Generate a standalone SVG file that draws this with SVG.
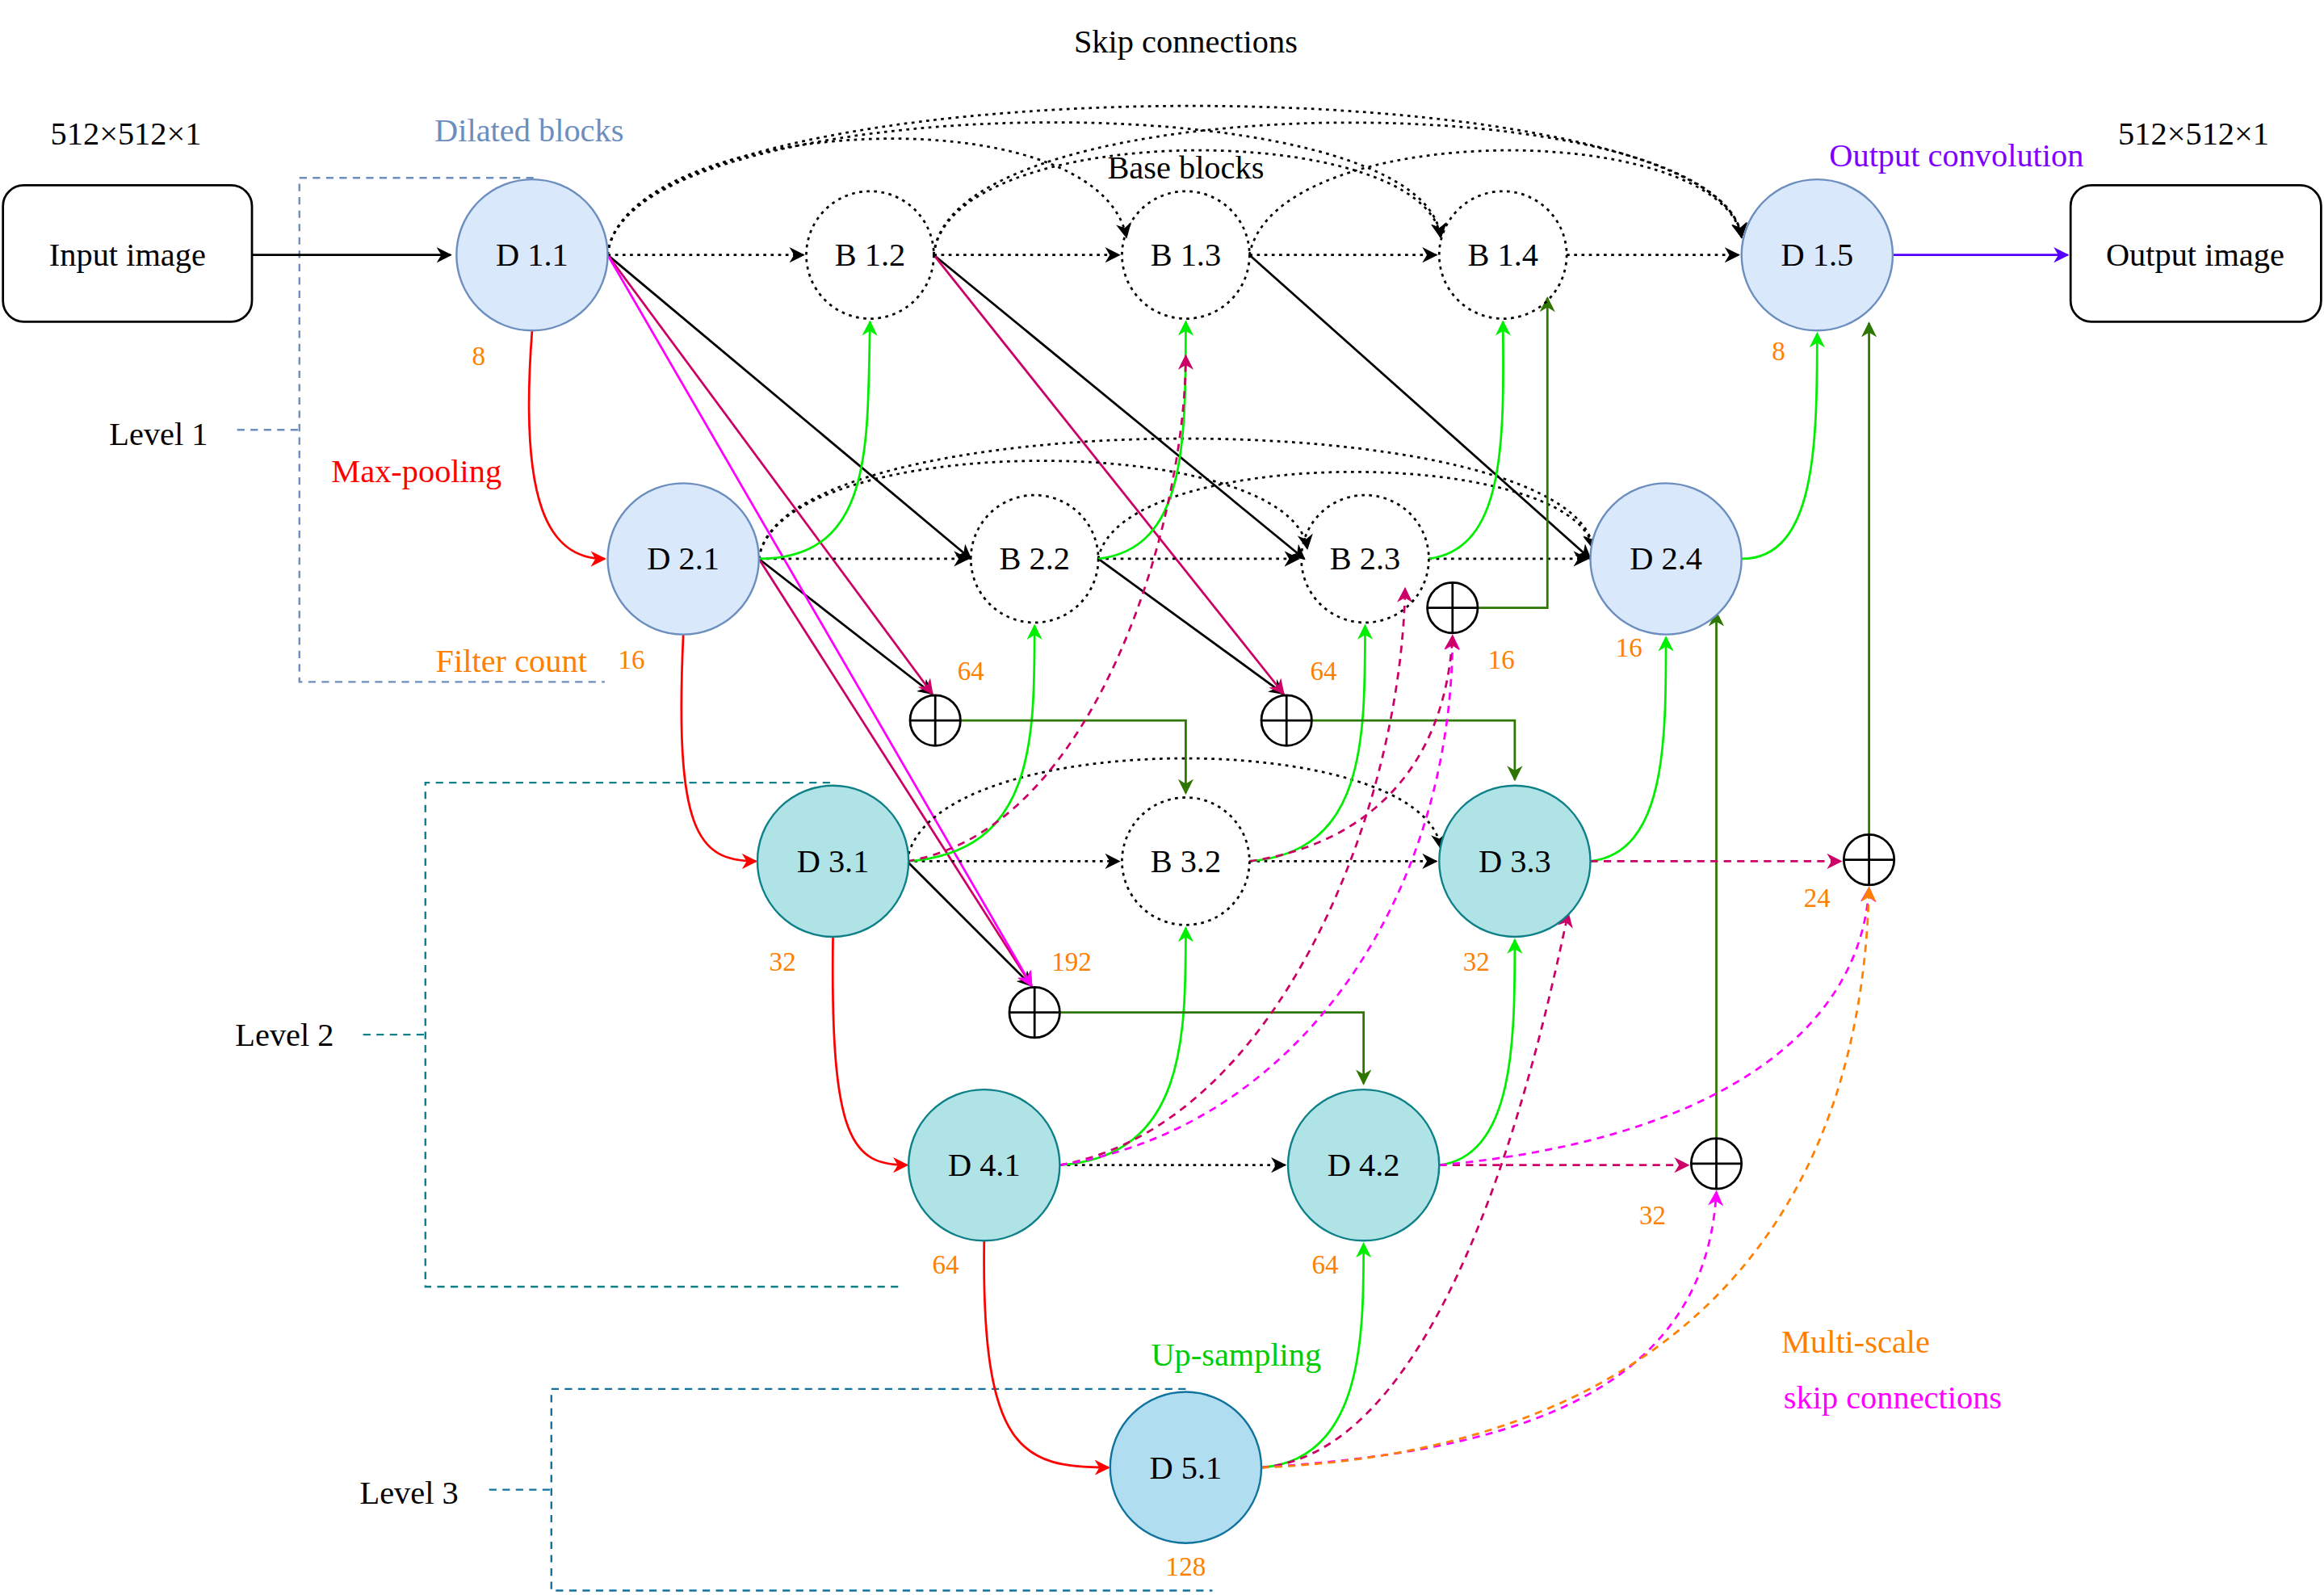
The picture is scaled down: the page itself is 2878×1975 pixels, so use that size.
<svg xmlns="http://www.w3.org/2000/svg" width="2878" height="1975" viewBox="0 0 2878 1975">
<style>
text{font-family:"Liberation Serif",serif;font-size:22px;text-anchor:middle;dominant-baseline:central}
.n{font-size:18px;fill:#ff8000}
.dil{fill:#dae8fc;stroke:#6c8ebf;stroke-width:1.3}
.t{fill:#b0e3e6;stroke:#0e8088;stroke-width:1.3}
.b{fill:none;stroke:#000;stroke-width:1.5;stroke-dasharray:2 3}
.p{fill:#fff;stroke:#000;stroke-width:1.5}
.c path{fill:none;stroke-width:1.5}
.k{stroke:#000}.kd{stroke:#000;stroke-dasharray:2 3}
.r{stroke:#ff0000}.g{stroke:#00ee00}.dg{stroke:#2d7600}
.cr{stroke:#cc0066}.crd{stroke:#cc0066;stroke-dasharray:5 4}
.m{stroke:#ff00ff}.md{stroke:#ff00ff;stroke-dasharray:5 4}
.od{stroke:#ff8000;stroke-dasharray:5 4}.bl{stroke:#5500ff}
</style>
<defs>
<marker id="ak" viewBox="0 0 10 10" refX="9" refY="5" markerWidth="7" markerHeight="7" orient="auto"><path d="M0,0L10,5L0,10L3,5z" fill="#000"/></marker>
<marker id="ar" viewBox="0 0 10 10" refX="9" refY="5" markerWidth="7" markerHeight="7" orient="auto"><path d="M0,0L10,5L0,10L3,5z" fill="#ff0000"/></marker>
<marker id="ag" viewBox="0 0 10 10" refX="9" refY="5" markerWidth="7" markerHeight="7" orient="auto"><path d="M0,0L10,5L0,10L3,5z" fill="#00ee00"/></marker>
<marker id="adg" viewBox="0 0 10 10" refX="9" refY="5" markerWidth="7" markerHeight="7" orient="auto"><path d="M0,0L10,5L0,10L3,5z" fill="#2d7600"/></marker>
<marker id="acr" viewBox="0 0 10 10" refX="9" refY="5" markerWidth="7" markerHeight="7" orient="auto"><path d="M0,0L10,5L0,10L3,5z" fill="#cc0066"/></marker>
<marker id="am" viewBox="0 0 10 10" refX="9" refY="5" markerWidth="7" markerHeight="7" orient="auto"><path d="M0,0L10,5L0,10L3,5z" fill="#ff00ff"/></marker>
<marker id="ao" viewBox="0 0 10 10" refX="9" refY="5" markerWidth="7" markerHeight="7" orient="auto"><path d="M0,0L10,5L0,10L3,5z" fill="#ff8000"/></marker>
<marker id="abl" viewBox="0 0 10 10" refX="9" refY="5" markerWidth="7" markerHeight="7" orient="auto"><path d="M0,0L10,5L0,10L3,5z" fill="#5500ff"/></marker>
</defs>
<rect width="2878" height="1975" fill="#fff"/>
<g transform="scale(1.8355)">
<g id="brackets" fill="none" stroke-width="1.3" stroke-dasharray="5 4">
<path d="M360,120H202V460H408M160,290H202" stroke="#6c8ebf"/>
<path d="M560,528H287V868H610M245,698H287" stroke="#0e8088"/>
<path d="M800,937H372V1073H818M330,1005H372" stroke="#10739e"/>
</g>
<g id="connectors" class="c">
<path class="k" d="M170,172H304" marker-end="url(#ak)"/>
<path class="k" d="M410,172L655,377" marker-end="url(#ak)"/>
<path class="k" d="M630,172L880,377" marker-end="url(#ak)"/>
<path class="k" d="M843,172L1073,377" marker-end="url(#ak)"/>
<path class="k" d="M512,377L629,468" marker-end="url(#ak)"/>
<path class="k" d="M741,377L866,468" marker-end="url(#ak)"/>
<path class="k" d="M612,581L696,665" marker-end="url(#ak)"/>
<path class="cr" d="M410,172L629,468" marker-end="url(#acr)"/>
<path class="cr" d="M630,172L866,468" marker-end="url(#acr)"/>
<path class="cr" d="M512,377L696,665" marker-end="url(#acr)"/>
<path class="m" d="M410,172L696,665" marker-end="url(#am)"/>
<path class="kd" d="M410,172H542" marker-end="url(#ak)"/>
<path class="kd" d="M630,172H755" marker-end="url(#ak)"/>
<path class="kd" d="M843,172H969" marker-end="url(#ak)"/>
<path class="kd" d="M1057,172H1173" marker-end="url(#ak)"/>
<path class="kd" d="M512,377H653" marker-end="url(#ak)"/>
<path class="kd" d="M741,377H876" marker-end="url(#ak)"/>
<path class="kd" d="M964,377H1071" marker-end="url(#ak)"/>
<path class="kd" d="M612,581H755" marker-end="url(#ak)"/>
<path class="kd" d="M843,581H969" marker-end="url(#ak)"/>
<path class="kd" d="M715,786H867" marker-end="url(#ak)"/>
<path class="kd" d="M410,172C420,80 740,60 760,160" marker-end="url(#ak)"/>
<path class="kd" d="M410,172C420,60 960,50 972,160" marker-end="url(#ak)"/>
<path class="kd" d="M410,172C420,40 1160,40 1175,160" marker-end="url(#ak)"/>
<path class="kd" d="M630,172C640,80 960,80 972,160" marker-end="url(#ak)"/>
<path class="kd" d="M630,172C640,55 1160,55 1175,160" marker-end="url(#ak)"/>
<path class="kd" d="M843,172C860,80 1160,80 1175,160" marker-end="url(#ak)"/>
<path class="kd" d="M512,377C525,290 870,290 882,370" marker-end="url(#ak)"/>
<path class="kd" d="M512,377C525,270 1060,270 1075,370" marker-end="url(#ak)"/>
<path class="kd" d="M741,377C755,300 1060,300 1075,370" marker-end="url(#ak)"/>
<path class="kd" d="M612,581C625,490 960,490 972,572" marker-end="url(#ak)"/>
<path class="r" d="M359,223C350,340 370,377 408,377" marker-end="url(#ar)"/>
<path class="r" d="M461,428C455,560 470,581 510,581" marker-end="url(#ar)"/>
<path class="r" d="M562,632C560,770 575,786 612,786" marker-end="url(#ar)"/>
<path class="r" d="M664,837C662,980 690,990 748,990" marker-end="url(#ar)"/>
<path class="g" d="M512,377C590,377 585,300 587,217" marker-end="url(#ag)"/>
<path class="g" d="M741,377C800,370 800,300 800,217" marker-end="url(#ag)"/>
<path class="g" d="M964,377C1015,370 1015,300 1014,217" marker-end="url(#ag)"/>
<path class="g" d="M1175,377C1225,377 1226,300 1226,225" marker-end="url(#ag)"/>
<path class="g" d="M612,581C698,575 698,500 698,422" marker-end="url(#ag)"/>
<path class="g" d="M843,581C921,575 921,500 921,422" marker-end="url(#ag)"/>
<path class="g" d="M1073,581C1124,575 1124,500 1124,430" marker-end="url(#ag)"/>
<path class="g" d="M715,786C800,780 800,700 800,626" marker-end="url(#ag)"/>
<path class="g" d="M971,786C1022,780 1022,700 1022,634" marker-end="url(#ag)"/>
<path class="g" d="M851,990C920,985 920,900 920,839" marker-end="url(#ag)"/>
<path class="dg" d="M648,486H800V535" marker-end="url(#adg)"/>
<path class="dg" d="M885,486H1022V526" marker-end="url(#adg)"/>
<path class="dg" d="M997,410H1044V201" marker-end="url(#adg)"/>
<path class="dg" d="M715,683H920V731" marker-end="url(#adg)"/>
<path class="dg" d="M1261,563V218" marker-end="url(#adg)"/>
<path class="dg" d="M1158,768V413" marker-end="url(#adg)"/>
<path class="bl" d="M1277,172H1395" marker-end="url(#abl)"/>
<path class="crd" d="M612,581C740,560 800,350 800,240" marker-end="url(#acr)"/>
<path class="crd" d="M715,786C860,760 945,550 948,397" marker-end="url(#acr)"/>
<path class="md" d="M715,786C880,760 980,600 980,429" marker-end="url(#am)"/>
<path class="crd" d="M843,581C920,570 975,520 980,429" marker-end="url(#acr)"/>
<path class="crd" d="M1073,581H1242" marker-end="url(#acr)"/>
<path class="crd" d="M971,786H1139" marker-end="url(#acr)"/>
<path class="crd" d="M851,990C980,980 1040,700 1058,616" marker-end="url(#acr)"/>
<path class="md" d="M971,786C1150,770 1255,700 1261,599" marker-end="url(#am)"/>
<path class="md" d="M851,990C1000,980 1150,950 1158,804" marker-end="url(#am)"/>
<path class="od" d="M851,990C1100,980 1255,850 1261,599" marker-end="url(#ao)"/>
</g>
<g id="input"><rect x="2" y="125" width="168" height="92" rx="14" fill="#fff" stroke="#000" stroke-width="1.5"/><text x="86" y="172">Input image</text></g>
<g id="output"><rect x="1397" y="125" width="169" height="92" rx="14" fill="#fff" stroke="#000" stroke-width="1.5"/><text x="1481" y="172">Output image</text></g>
<g id="D11"><circle class="dil" cx="359" cy="172" r="51"/><text x="359" y="172">D 1.1</text></g>
<g id="B12"><circle class="b" cx="587" cy="172" r="43"/><text x="587" y="172">B 1.2</text></g>
<g id="B13"><circle class="b" cx="800" cy="172" r="43"/><text x="800" y="172">B 1.3</text></g>
<g id="B14"><circle class="b" cx="1014" cy="172" r="43"/><text x="1014" y="172">B 1.4</text></g>
<g id="D15"><circle class="dil" cx="1226" cy="172" r="51"/><text x="1226" y="172">D 1.5</text></g>
<g id="D21"><circle class="dil" cx="461" cy="377" r="51"/><text x="461" y="377">D 2.1</text></g>
<g id="B22"><circle class="b" cx="698" cy="377" r="43"/><text x="698" y="377">B 2.2</text></g>
<g id="B23"><circle class="b" cx="921" cy="377" r="43"/><text x="921" y="377">B 2.3</text></g>
<g id="D24"><circle class="dil" cx="1124" cy="377" r="51"/><text x="1124" y="377">D 2.4</text></g>
<g id="D31"><circle class="t" cx="562" cy="581" r="51"/><text x="562" y="581">D 3.1</text></g>
<g id="B32"><circle class="b" cx="800" cy="581" r="43"/><text x="800" y="581">B 3.2</text></g>
<g id="D33"><circle class="t" cx="1022" cy="581" r="51"/><text x="1022" y="581">D 3.3</text></g>
<g id="D41"><circle class="t" cx="664" cy="786" r="51"/><text x="664" y="786">D 4.1</text></g>
<g id="D42"><circle class="t" cx="920" cy="786" r="51"/><text x="920" y="786">D 4.2</text></g>
<g id="D51"><circle cx="800" cy="990" r="51" fill="#b1ddf0" stroke="#10739e" stroke-width="1.3"/><text x="800" y="990">D 5.1</text></g>
<g id="plus" class="p">
<path d="M614,486a17,17 0 1,0 34,0a17,17 0 1,0 -34,0M614,486H648M631,469V503"/>
<path d="M851,486a17,17 0 1,0 34,0a17,17 0 1,0 -34,0M851,486H885M868,469V503"/>
<path d="M963,410a17,17 0 1,0 34,0a17,17 0 1,0 -34,0M963,410H997M980,393V427"/>
<path d="M681,683a17,17 0 1,0 34,0a17,17 0 1,0 -34,0M681,683H715M698,666V700"/>
<path d="M1244,580a17,17 0 1,0 34,0a17,17 0 1,0 -34,0M1244,580H1278M1261,563V597"/>
<path d="M1141,785a17,17 0 1,0 34,0a17,17 0 1,0 -34,0M1141,785H1175M1158,768V802"/>
</g>
<g id="labels">
<text x="800" y="28">Skip connections</text>
<text x="85" y="90">512×512×1</text>
<text x="1480" y="90">512×512×1</text>
<text x="357" y="88" fill="#6c8ebf">Dilated blocks</text>
<text x="800" y="113">Base blocks</text>
<text x="1320" y="105" fill="#7f00ff">Output convolution</text>
<text x="281" y="318" fill="#ff0000">Max-pooling</text>
<text x="345" y="446" fill="#ff8000">Filter count</text>
<text x="834" y="914" fill="#00cc00">Up-sampling</text>
<text x="1252" y="905" fill="#ff8000">Multi-scale</text>
<text x="1277" y="943" fill="#ff00ff">skip connections</text>
<text x="107" y="293">Level 1</text>
<text x="192" y="698">Level 2</text>
<text x="276" y="1007">Level 3</text>
<text class="n" x="323" y="240">8</text>
<text class="n" x="426" y="445">16</text>
<text class="n" x="655" y="453">64</text>
<text class="n" x="893" y="453">64</text>
<text class="n" x="1013" y="445">16</text>
<text class="n" x="1099" y="437">16</text>
<text class="n" x="1200" y="237">8</text>
<text class="n" x="528" y="649">32</text>
<text class="n" x="723" y="649">192</text>
<text class="n" x="996" y="649">32</text>
<text class="n" x="1226" y="606">24</text>
<text class="n" x="638" y="853">64</text>
<text class="n" x="894" y="853">64</text>
<text class="n" x="1115" y="820">32</text>
<text class="n" x="800" y="1057">128</text>
</g>
</g>
</svg>
